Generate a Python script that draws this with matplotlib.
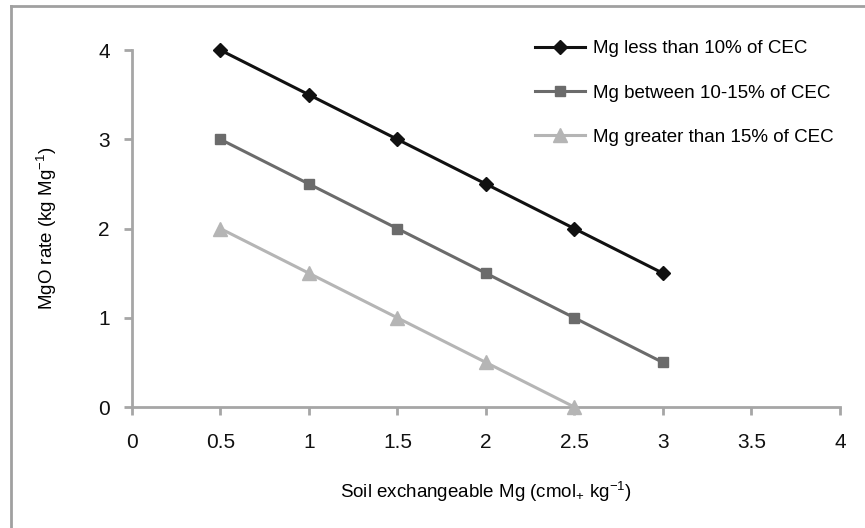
import matplotlib.pyplot as plt
from matplotlib.lines import Line2D

plt.rcParams['font.family'] = ['Liberation Sans', 'DejaVu Sans']
plt.rcParams['mathtext.default'] = 'regular'

# data
soil_mg = [0.5, 1.0, 1.5, 2.0, 2.5, 3.0]
mg_low = [4.0, 3.5, 3.0, 2.5, 2.0, 1.5]
mg_mid = [3.0, 2.5, 2.0, 1.5, 1.0, 0.5]
soil_mg_high = [0.5, 1.0, 1.5, 2.0, 2.5]
mg_high = [2.0, 1.5, 1.0, 0.5, 0.0]

labels = ['Mg less than 10% of CEC',
          'Mg between 10-15% of CEC',
          'Mg greater than 15% of CEC']

axis_grey = '#a6a6a6'

fig = plt.figure(figsize=(8.65, 5.28), dpi=100)
ax = fig.add_axes([0.1526, 0.229, 0.8184, 0.676])

ax.plot(soil_mg, mg_low, color='#111111', lw=2.2, marker='D', ms=7.5, label=labels[0], clip_on=False, zorder=4)
ax.plot(soil_mg, mg_mid, color='#6b6b6b', lw=2.2, marker='s', ms=7.5, label=labels[1], clip_on=False, zorder=4)
ax.plot(soil_mg_high, mg_high, color='#b5b5b5', lw=2.2, marker='^', ms=10, label=labels[2], clip_on=False, zorder=4)

ax.set_xlim(0, 4)
ax.set_ylim(0, 4)
ax.set_xticks([0, 0.5, 1, 1.5, 2, 2.5, 3, 3.5, 4])
ax.set_xticklabels(['0', '0.5', '1', '1.5', '2', '2.5', '3', '3.5', '4'])
ax.set_yticks([0, 1, 2, 3, 4])

for s in ['top', 'right']:
    ax.spines[s].set_visible(False)
for s in ['left', 'bottom']:
    ax.spines[s].set_color(axis_grey)
    ax.spines[s].set_linewidth(2)
ax.tick_params(axis='both', colors=axis_grey, width=2, length=6, labelsize=15,
               labelcolor='#111111')
ax.tick_params(axis='x', pad=13)
ax.tick_params(axis='y', pad=10)

ax.set_xlabel('Soil exchangeable Mg (cmol$_{+}$ kg$^{-1}$)', fontsize=13.5, labelpad=20)
ax.set_ylabel('MgO rate (kg Mg$^{-1}$)', fontsize=13.5, labelpad=28)

ax.legend(loc='upper left', bbox_to_anchor=(0.545, 1.075), frameon=False,
          fontsize=13.5, handlelength=2.7, labelspacing=1.45, handletextpad=0.4)

# partial outer frame as in the source figure
fig.add_artist(Line2D([11 / 865, 11 / 865], [0, 1 - 6 / 528], transform=fig.transFigure,
                      color='#a0a0a0', lw=2))
fig.add_artist(Line2D([11 / 865, 1], [1 - 6 / 528, 1 - 6 / 528], transform=fig.transFigure,
                      color='#a0a0a0', lw=2))

plt.savefig('out.png', dpi=100)
